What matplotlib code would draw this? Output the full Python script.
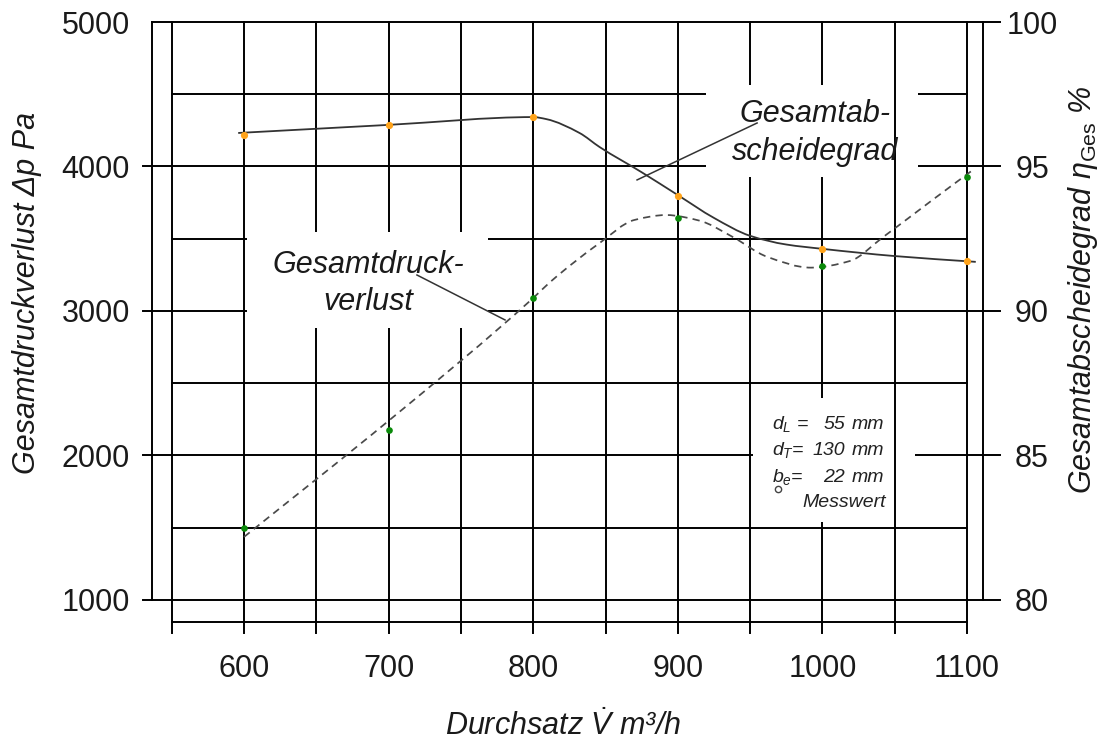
import numpy as np
import matplotlib
matplotlib.use("Agg")
import matplotlib.pyplot as plt
from matplotlib.path import Path
from matplotlib.patches import PathPatch, Rectangle

plt.rcParams['font.family'] = ['Liberation Sans', 'DejaVu Sans']
plt.rcParams['mathtext.fontset'] = 'custom'
plt.rcParams['mathtext.rm'] = 'Liberation Sans'
plt.rcParams['mathtext.it'] = 'Liberation Sans:italic'
plt.rcParams['mathtext.bf'] = 'Liberation Sans:bold'

# Measured values
durchsatz = [600, 700, 800, 900, 1000, 1100]            # m³/h
druckverlust = [1498, 2176, 3090, 3646, 3313, 3925]     # Pa
abscheidegrad = [96.09, 96.44, 96.71, 93.98, 92.14, 91.73]  # %

# Fitted trend curves
fit_x_druck = [600, 700, 800, 811, 846, 870, 892, 915, 938, 962, 992, 1019, 1042, 1076, 1104]
fit_druck = [1436, 2240, 3090, 3194, 3471, 3630, 3664, 3625, 3512, 3374, 3300, 3346, 3512, 3768, 3976]
fit_x_abs = [596, 700, 800, 809, 832, 846, 875, 900, 925, 950, 975, 1000, 1050, 1106]
fit_abs = [96.16, 96.44, 96.71, 96.64, 96.16, 95.67, 94.80, 94.01, 93.22, 92.60, 92.30, 92.15, 91.90, 91.70]

x_ticks = [600, 700, 800, 900, 1000, 1100]
p_ticks = [1000, 2000, 3000, 4000, 5000]
eta_ticks = [80, 85, 90, 95, 100]


def smooth_path(x, y):
    """Monotone cubic Hermite curve through the points, as a Bezier path."""
    x = np.asarray(x, float)
    y = np.asarray(y, float)
    h = np.diff(x)
    s = np.diff(y) / h
    m = np.zeros_like(x)
    m[0], m[-1] = s[0], s[-1]
    for i in range(1, len(x) - 1):
        if s[i - 1] * s[i] > 0:
            w1 = 2 * h[i] + h[i - 1]
            w2 = h[i] + 2 * h[i - 1]
            m[i] = (w1 + w2) / (w1 / s[i - 1] + w2 / s[i])
    verts = [(x[0], y[0])]
    codes = [Path.MOVETO]
    for i in range(len(h)):
        verts += [(x[i] + h[i] / 3, y[i] + m[i] * h[i] / 3),
                  (x[i + 1] - h[i] / 3, y[i + 1] - m[i + 1] * h[i] / 3),
                  (x[i + 1], y[i + 1])]
        codes += [Path.CURVE4] * 3
    return Path(verts, codes)


fig = plt.figure(figsize=(11.02, 7.42), dpi=100)
ax = fig.add_axes([152 / 1102, (742 - 633.2) / 742, 831 / 1102, 611.2 / 742])
ax.set_xlim(536.4, 1111)
ax.set_ylim(770, 5000)
ax2 = ax.twinx()
ax2.set_ylim(80 + (770 - 1000) / 200, 100)

for a in (ax, ax2):
    for sp in a.spines.values():
        sp.set_visible(False)

# ---- grid ----
gk = dict(colors='black', linewidths=1.4, clip_on=False, capstyle='projecting')
x_lo, x_hi = ax.get_xlim()
y_lo = ax.get_ylim()[0]
grid_x = np.arange(550, 1101, 50)
for gx in grid_x:
    ax.vlines(gx, y_lo, 5000, zorder=2.5 if gx == 1050 else 1, **gk)
ax.vlines([x_lo, x_hi], 1000, 5000, zorder=1, **gk)
for gp in p_ticks:
    ax.hlines(gp, 530 if gp < 5000 else x_lo, 1122.6, zorder=1, **gk)
ax.hlines(np.arange(1500, 5000, 1000), 550, 1100, zorder=1, **gk)
ax.hlines(848, 550, 1100, zorder=1, **gk)

# white label backgrounds
for (bx, by, bw, bh) in [(919.5, 3927, 146.6, 637), (602.1, 2882, 166.6, 665),
                         (952, 1540, 112, 858)]:
    ax.add_patch(Rectangle((bx, by), bw, bh, facecolor='white', edgecolor='none', zorder=2))

# ---- ticks ----
tcol = '#1a1a1a'
ax.set_xticks(x_ticks)
ax.set_xticklabels([str(v) for v in x_ticks])
ax.tick_params(axis='x', length=0, pad=15, labelsize=22, labelcolor=tcol)
ax.set_yticks(p_ticks)
ax.set_yticklabels([str(v) for v in p_ticks])
ax.tick_params(axis='y', length=0, pad=15.8, labelsize=22, labelcolor=tcol)
ax2.set_yticks(eta_ticks)
ax2.set_yticklabels([str(v) for v in eta_ticks])
ax2.tick_params(axis='y', length=0, pad=35.3, labelsize=22, labelcolor=tcol)
for lbl in ax2.get_yticklabels():
    lbl.set_horizontalalignment('center')

# ---- axis titles ----
ax.set_xlabel('Durchsatz $\\dot{V}$ m³/h', fontsize=22, style='italic', color=tcol, va='baseline')
ax.xaxis.set_label_coords(0.4946, -0.1666)
ax.set_ylabel('Gesamtdruckverlust Δp Pa', fontsize=22, style='italic', color=tcol,
              va='center', ha='center')
ax.yaxis.set_label_coords(-0.1504, 0.5566)
ax2.set_ylabel('Gesamtabscheidegrad $\\eta_{\\mathrm{Ges}}$ %', fontsize=22, style='italic',
               color=tcol, va='center', ha='center', rotation=90)
ax2.yaxis.set_label_coords(1.1203, 0.5615)

# ---- curves ----
ax.add_patch(PathPatch(smooth_path(fit_x_druck, fit_druck), fill=False, edgecolor='#4a4a4a',
                       linewidth=1.25, linestyle=(0, (4.2, 3.0)), zorder=3))
ax2.add_patch(PathPatch(smooth_path(fit_x_abs, fit_abs), fill=False, edgecolor='#333333',
                        linewidth=1.3, zorder=3))

ax.plot(durchsatz, druckverlust, 'o', color='#0a8a0a', ms=4.8, mec='none', zorder=4)
ax2.plot(durchsatz, abscheidegrad, 'o', color='#ffa31a', ms=5.2, mec='none', zorder=4)

# ---- annotations ----
tk = dict(fontsize=22, style='italic', color=tcol, ha='center', va='baseline', zorder=5)
ax.text(995, 4308, 'Gesamtab-', **tk)
ax.text(995, 4045, 'scheidegrad', **tk)
ax.text(686, 3263, 'Gesamtdruck-', **tk)
ax.text(686, 3007, 'verlust', **tk)
ax.plot([871.8, 954.8], [3907, 4301], color='#333333', lw=1.1, zorder=3)
ax.plot([719.6, 780.5], [3249, 2938], color='#333333', lw=1.1, zorder=3)

sk = dict(fontsize=14, style='italic', color='#222222', va='baseline', zorder=5)
rows = [('$d_L$ =', '55', 2181), ('$d_T$=', '130', 2003), ('$b_e$=', '22', 1819)]
for name, val, yb in rows:
    ax.text(965.1, yb, name, ha='left', **sk)
    ax.text(1015.6, yb, val, ha='right', **sk)
    ax.text(1020.5, yb, 'mm', ha='left', **sk)
ax.plot([969.3], [1768], 'o', ms=4.5, mfc='white', mec='#444444', mew=1.0, zorder=5)
ax.text(985.9, 1644, 'Messwert', ha='left', **sk)

fig.savefig('out.png', dpi=100)
